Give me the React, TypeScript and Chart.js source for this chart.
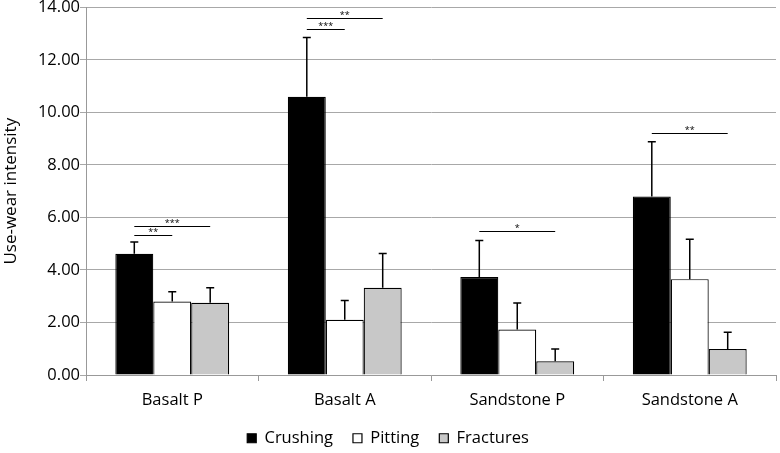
import React, { useEffect, useRef } from "react";
import { Chart, registerables } from "chart.js";

Chart.register(...registerables);

const categories = ["Basalt P", "Basalt A", "Sandstone P", "Sandstone A"];
const seriesNames = ["Crushing", "Pitting", "Fractures"];
const crushing = [4.62, 10.6, 3.73, 6.8];
const pitting = [2.8, 2.1, 1.73, 3.65];
const fractures = [2.75, 3.32, 0.52, 0.99];
const crushingErr = [0.45, 2.25, 1.39, 2.08];
const pittingErr = [0.37, 0.74, 1.01, 1.52];
const fracturesErr = [0.57, 1.31, 0.47, 0.64];
const yTicks = [0, 2, 4, 6, 8, 10, 12, 14];
// significance brackets
const sigCategory = [0, 0, 1, 1, 2, 3];
const sigFrom = [0, 0, 0, 0, 0, 0];
const sigTo = [1, 2, 1, 2, 2, 2];
const sigY = [5.34, 5.69, 13.19, 13.61, 5.47, 9.22];
const sigLabel = ["**", "***", "***", "**", "*", "**"];

const FONT = "'Open Sans', 'DejaVu Sans', sans-serif";

const errorBarPlugin = {
  id: "errorBars",
  afterInit(chart: any) {
    const legend = chart.legend;
    if (legend) {
      const origFit = legend.fit;
      legend.fit = function () {
        origFit.call(this);
        this.height = 43;
      };
    }
  },
  afterDatasetsDraw(chart: any) {
    const ctx = chart.ctx;
    const y = chart.scales.y;
    const errs = [crushingErr, pittingErr, fracturesErr];
    ctx.save();
    ctx.strokeStyle = "#000";
    ctx.lineWidth = 1.5;
    chart.data.datasets.forEach((ds: any, di: number) => {
      const meta = chart.getDatasetMeta(di);
      meta.data.forEach((bar: any, i: number) => {
        const v = ds.data[i];
        const top = y.getPixelForValue(v + errs[di][i]);
        const base = y.getPixelForValue(v);
        ctx.beginPath();
        ctx.moveTo(bar.x, base);
        ctx.lineTo(bar.x, top);
        ctx.moveTo(bar.x - 4, top);
        ctx.lineTo(bar.x + 4, top);
        ctx.stroke();
      });
    });
    ctx.lineWidth = 1;
    ctx.fillStyle = "#000";
    ctx.font = `9px ${FONT}`;
    ctx.textAlign = "center";
    ctx.textBaseline = "bottom";
    sigCategory.forEach((c, k) => {
      const x1 = chart.getDatasetMeta(sigFrom[k]).data[c].x;
      const x2 = chart.getDatasetMeta(sigTo[k]).data[c].x;
      const py = Math.round(y.getPixelForValue(sigY[k])) + 0.5;
      ctx.beginPath();
      ctx.moveTo(x1, py);
      ctx.lineTo(x2, py);
      ctx.stroke();
      ctx.fillText(sigLabel[k], (x1 + x2) / 2, py + 1);
    });
    ctx.restore();
  },
};

export default function App() {
  const ref = useRef<HTMLCanvasElement>(null);
  useEffect(() => {
    document.body.style.margin = "0";
    const chart = new Chart(ref.current!, {
      type: "bar",
      data: {
        labels: categories,
        datasets: [
          {
            label: seriesNames[0],
            data: crushing,
            backgroundColor: "#000000",
            borderColor: "#000000",
            borderWidth: 1.2,
          },
          {
            label: seriesNames[1],
            data: pitting,
            backgroundColor: "#ffffff",
            borderColor: "#000000",
            borderWidth: 1.2,
          },
          {
            label: seriesNames[2],
            data: fractures,
            backgroundColor: "#c8c8c8",
            borderColor: "#000000",
            borderWidth: 1.2,
          },
        ],
      },
      options: {
        animation: false,
        responsive: false,
        maintainAspectRatio: false,
        layout: { padding: { left: 0, right: 4, top: 0, bottom: 0 } },
        datasets: {
          bar: { categoryPercentage: 0.66, barPercentage: 1 },
        },
        scales: {
          x: {
            grid: {
              drawOnChartArea: false,
              drawTicks: true,
              tickLength: 6,
              color: "#999999",
            },
            border: { color: "#999999", width: 1 },
            ticks: {
              color: "#000",
              font: { family: FONT, size: 16.5 },
              padding: 9,
            },
            afterFit(scale: any) {
              scale.height = 35;
            },
          },
          y: {
            min: 0,
            max: 14,
            afterBuildTicks(scale: any) {
              scale.ticks = yTicks.map((v) => ({ value: v }));
            },
            grid: { color: "#a8a8a8", tickLength: 6, lineWidth: 1 },
            border: { color: "#999999", width: 1 },
            ticks: {
              color: "#000",
              font: { family: FONT, size: 16.5, lineHeight: 0.9 },
              padding: 0,
              callback: (v: any) => Number(v).toFixed(2),
            },
            title: {
              display: true,
              text: "Use-wear intensity",
              color: "#000",
              font: { family: FONT, size: 17, lineHeight: 1.1 },
              padding: { top: 2, bottom: 0 },
            },
            afterFit(scale: any) {
              scale.width = 86;
            },
          },
        },
        plugins: {
          legend: {
            position: "bottom",
            labels: {
              color: "#000",
              font: { family: FONT, size: 16.5 },
              boxWidth: 9,
              boxHeight: 9,
              padding: 20,
            },
          },
          tooltip: { enabled: false },
        },
      },
      plugins: [errorBarPlugin],
    } as any);
    return () => chart.destroy();
  }, []);
  return (
    <div style={{ width: 780, height: 453 }}>
      <canvas ref={ref} width={780} height={453} style={{ display: "block" }} />
    </div>
  );
}
